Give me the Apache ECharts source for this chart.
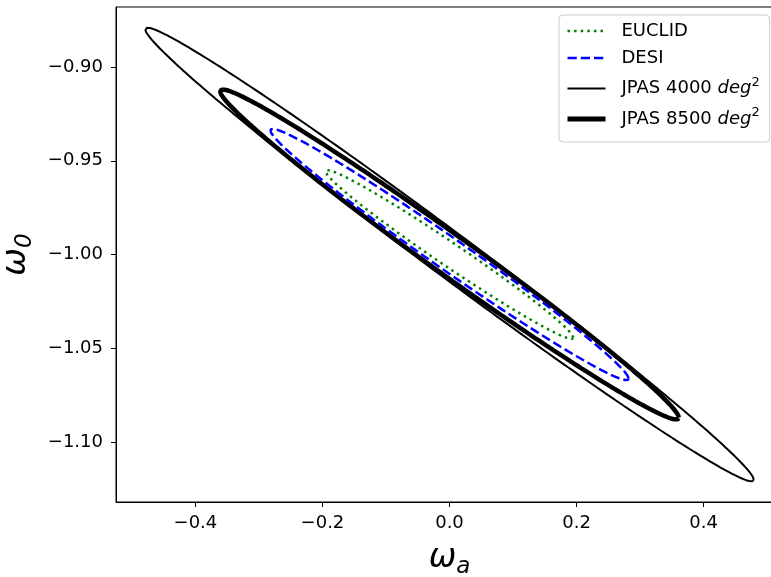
<!DOCTYPE html>
<html>
<head>
<meta charset="utf-8">
<script src="https://cdn.jsdelivr.net/npm/echarts@6/dist/echarts.min.js"></script>
<style>html,body{margin:0;padding:0;background:#fff}#c{width:771px;height:577px}</style>
</head>
<body>
<div id="c"></div>
<script>
// Survey names (legend order)
const surveys = ['EUCLID', 'DESI', 'JPAS 4000 deg2', 'JPAS 8500 deg2'];
// Fiducial centre (w_a, w_0)
const centreWa = [0, 0, 0, 0];
const centreW0 = [-1, -1, -1, -1];
// Contour half-extent along w_a and w_0, and correlation coefficient
const extentWa = [0.195, 0.282, 0.479, 0.361];
const extentW0 = [0.045, 0.067, 0.121, 0.088];
const rho = [-0.986, -0.988, -0.9928, -0.989];
// Tick labels
const xTicks = [-0.4, -0.2, 0.0, 0.2, 0.4];
const yTicks = [-1.10, -1.05, -1.00, -0.95, -0.90];

const colors = ['#008000', '#0000ff', '#000000', '#000000'];
const widths = [2.5, 2.5, 2.0, 4.5];
const legendWidths = [2.5, 2.5, 2.2, 5];
const dashes = [[2.5, 4.1], [9.25, 4], 'solid', 'solid'];

function contour(i) {
  const pts = [];
  const s = Math.sqrt(1 - rho[i] * rho[i]);
  for (let k = 0; k <= 360; k++) {
    const t = k * Math.PI / 180;
    pts.push([centreWa[i] + extentWa[i] * Math.cos(t),
              centreW0[i] + extentW0[i] * (rho[i] * Math.cos(t) + s * Math.sin(t))]);
  }
  return pts;
}

const fmt = (d) => (v) => (v < 0 ? '\u2212' : '') + Math.abs(v).toFixed(d);
const font = 'DejaVu Sans';
const nameRich = {
  w: {fontFamily: font, fontSize: 33, fontStyle: 'italic', color: '#000'},
  s: {fontFamily: font, fontSize: 23, fontStyle: 'italic', color: '#000', padding: [18, 0, 0, 0]}
};

const chart = echarts.init(document.getElementById('c'), null, {renderer: 'canvas'});
chart.setOption({
  animation: false,
  backgroundColor: '#fff',
  grid: {left: 116, top: 7, right: -12, bottom: 75, outerBoundsMode: 'none', containLabel: false,
         show: true, borderColor: '#000', borderWidth: 1, backgroundColor: 'transparent'},
  xAxis: {
    type: 'value', min: -0.525, max: 0.525,
    axisLine: {show: true, onZero: false, lineStyle: {color: '#000', width: 1}},
    axisTick: {show: true, length: 5, lineStyle: {color: '#000'}, customValues: xTicks},
    axisLabel: {customValues: xTicks, formatter: fmt(1), color: '#000', fontFamily: font, fontSize: 18, margin: 12},
    splitLine: {show: false},
    name: '{w|ω}{s|a}', nameLocation: 'middle', nameGap: 36,
    nameTextStyle: {rich: nameRich}
  },
  yAxis: {
    type: 'value', min: -1.132, max: -0.868,
    axisLine: {show: true, onZero: false, lineStyle: {color: '#000', width: 1}},
    axisTick: {show: true, length: 5, lineStyle: {color: '#000'}, customValues: yTicks},
    axisLabel: {customValues: yTicks, formatter: fmt(2), color: '#000', fontFamily: font, fontSize: 18, margin: 13},
    splitLine: {show: false},
    name: '{w|ω}{s|0}', nameLocation: 'middle', nameGap: 67, nameRotate: 90,
    nameTextStyle: {rich: nameRich}
  },
  legend: {
    orient: 'vertical', left: 559, top: 15,
    padding: [7, 10, 14, 6], itemGap: 9, itemWidth: 38, itemHeight: 14,
    backgroundColor: '#fff', borderColor: '#cccccc', borderWidth: 1, borderRadius: 4,
    itemStyle: {opacity: 0},
    data: surveys.map((name, i) => ({name, lineStyle: {width: legendWidths[i], color: colors[i], type: dashes[i]}})),
    formatter: (n) => n.startsWith('JPAS') ? n.replace(' deg2', ' ') + '{i|deg}{p|2}' : n,
    textStyle: {fontFamily: font, fontSize: 18, color: '#000', padding: [0, 0, 0, 11],
      rich: {i: {fontFamily: font, fontStyle: 'italic', fontSize: 18, color: '#000'},
             p: {fontFamily: font, fontSize: 13, color: '#000', padding: [0, 0, 12, 0]}}}
  },
  series: surveys.map((name, i) => ({
    name, type: 'line', data: contour(i), showSymbol: false, symbol: 'none', smooth: false,
    lineStyle: {color: colors[i], width: widths[i], type: dashes[i]},
    itemStyle: {color: colors[i]},
    z: 10 - i
  }))
});
</script>
</body>
</html>
